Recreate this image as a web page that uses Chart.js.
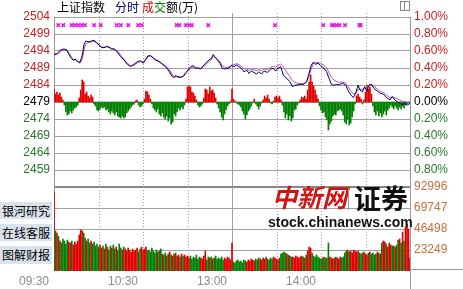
<!DOCTYPE html>
<html>
<head>
<meta charset="utf-8">
<script src="https://cdn.jsdelivr.net/npm/chart.js@4.4.0/dist/chart.umd.min.js"></script>
<style>
html, body { margin: 0; padding: 0; background: #fff; }
#wrap { position: relative; width: 463px; height: 289px; overflow: hidden; font-family: "Noto Sans CJK SC", sans-serif; }
canvas { position: absolute; left: 0; top: 0; }
.t { position: absolute; top: 0; font-size: 12px; line-height: 13px; white-space: nowrap; }
.btn { position: absolute; left: 0; width: 52px; height: 17px; background: #d9e3ec; font-size: 12px; line-height: 17px; padding-left: 2px; box-sizing: border-box; color: #000; }
.wm { position: absolute; white-space: nowrap; pointer-events: none; line-height: 1; }
</style>
</head>
<body>
<div id="wrap">
  <canvas id="top" width="463" height="289"></canvas>
  <canvas id="vol" width="463" height="289"></canvas>

  <span class="t" style="left:57px">上证指数</span>
  <span class="t" style="left:115px;color:#000080">分时</span>
  <span class="t" style="left:142px;color:#d00000">成</span>
  <span class="t" style="left:154px;color:#008000">交</span>
  <span class="t" style="left:166px">额(万)</span>
  <div style="position:absolute;left:400px;top:1px;width:8px;height:8px;border:1px solid #888"></div>
  <div style="position:absolute;left:404px;top:1px;width:1px;height:9px;background:#888"></div>

  <div class="btn" style="top:202px">银河研究</div>
  <div class="btn" style="top:224px">在线客服</div>
  <div class="btn" style="top:246px;height:18px">图解财报</div>

  <div class="wm" style="left:272px;top:184px;font-size:25px;font-weight:bold;font-style:italic;color:#d01414">中新网</div>
  <div class="wm" style="left:348px;top:188px;width:1px;height:22px;background:#999"></div>
  <div class="wm" style="left:354px;top:184px;font-size:27px;font-weight:bold;color:#111">证券</div>
  <div class="wm" style="left:268px;top:215px;font-size:14px;font-weight:bold;color:#111;font-family:'Liberation Sans',Arial,sans-serif">stock.chinanews.com</div>
</div>

<script>
// ---- data ----
const priceTicks = [2454, 2459, 2464, 2469, 2474, 2479, 2484, 2489, 2494, 2499, 2504];
const pctLabels = ['', '0.80%', '0.60%', '0.40%', '0.20%', '0.00%', '0.20%', '0.40%', '0.60%', '0.80%', '1.00%'];
const prevClose = 2479;
const volTicks = [0, 23249, 46498, 69747, 92996];
const timeTicks = [0, 60, 120, 180];
const timeLabels = ['09:30', '10:30', '13:00', '14:00'];
const gridTimes = [30, 60, 90, 120, 150, 180, 210];

// minutes since 09:30 (trading minutes)
const lineTimes = [
  0, 2.2, 4.5, 6.7, 8.5, 10.1, 11.7, 13, 14.6, 15.7,
  17.5, 19.1, 20.2, 21.3, 23.6, 25.2, 27, 28.8, 30.3, 31.9,
  33.7, 35.5, 37.1, 38.7, 40.4, 42.2, 43.8, 44.9, 47.2, 49.4,
  51.7, 53.9, 56.2, 58.4, 60.2, 61.8, 63.4, 65.2, 67, 68.5,
  70.8, 73, 75.3, 77.5, 79.8, 81.3,
  82, 83.1, 85.4, 87.2, 88.8, 90.3, 92.1, 93.9, 95.5, 97.1,
  98.9, 100.7, 102.2, 104.5, 106.1, 107.4, 108.3, 110.1, 111.9, 113.5,
  115.7, 118, 119.5, 121.3, 123.1, 124.7, 126.3, 128.1, 129.9, 131.5,
  133, 134.8, 136.6, 138.2, 139.8, 141.6, 143.8, 146.1, 147.9, 149.4,
  151, 152.8, 154.6, 156.8, 159, 160.7,
  162.2, 164, 166.3, 168.5, 170.3, 171.9, 173.5, 174.8, 176.4, 178,
  179.8, 182, 183.8, 185.4, 187, 188.8, 190.6, 192.1, 194.4, 196.6,
  198.2, 200, 201.8, 203.4, 205, 206.3, 207.9, 209.4, 210.8, 212.4,
  213.9, 215.7, 218, 219.8, 222, 224.3, 226.5, 228.1, 229.7, 231.5,
  233.3, 234.8, 236.4, 238.2, 240
];
const indexPrice = [
  2492.8, 2493.3, 2494.3, 2494.6, 2494.3, 2493.0, 2491.8, 2491.3, 2491.6, 2490.9,
  2490.7, 2492.8, 2495.8, 2496.9, 2496.7, 2496.9, 2497.2, 2496.3, 2495.8, 2495.0,
  2495.0, 2495.3, 2495.1, 2494.6, 2494.6, 2494.0, 2493.0, 2492.3, 2491.4, 2490.1,
  2489.4, 2490.1, 2490.9, 2491.1, 2490.4, 2491.6, 2492.6, 2492.6, 2491.8, 2491.3,
  2490.9, 2490.1, 2489.4, 2488.1, 2486.4, 2486.3,
  2486.8, 2486.4, 2486.2, 2486.6, 2487.7, 2488.4, 2489.4, 2489.7, 2488.9, 2489.0,
  2488.7, 2489.7, 2490.4, 2491.4, 2491.8, 2493.0, 2492.3, 2491.4, 2490.4, 2488.9,
  2488.7, 2489.0, 2489.7, 2489.4, 2489.9, 2489.4, 2488.9, 2487.9, 2488.4, 2487.4,
  2488.1, 2487.7, 2487.2, 2487.9, 2487.2, 2488.1, 2487.7, 2488.7, 2488.9, 2488.1,
  2488.9, 2489.4, 2486.9, 2486.0, 2485.0, 2483.5,
  2483.9, 2484.0, 2484.2, 2484.2, 2485.0, 2487.4, 2489.9, 2490.7, 2490.1, 2490.4,
  2489.7, 2488.9, 2487.9, 2486.0, 2484.2, 2483.9, 2484.2, 2484.0, 2484.5, 2484.0,
  2482.5, 2481.1, 2480.3, 2481.6, 2484.0, 2482.5, 2482.0, 2483.5, 2482.2, 2484.0,
  2484.2, 2483.0, 2482.2, 2481.6, 2481.3, 2480.3, 2479.6, 2480.6, 2479.6, 2479.1,
  2478.6, 2478.1, 2478.6, 2478.1, 2478.6
];
const leadPrice = [
  2493.5, 2493.0, 2493.8, 2494.4, 2494.4, 2493.4, 2492.3, 2491.5, 2491.4, 2490.9,
  2490.4, 2491.6, 2494.3, 2496.0, 2496.6, 2496.7, 2496.9, 2496.5, 2496.0, 2495.3,
  2495.1, 2495.3, 2495.2, 2494.8, 2494.6, 2494.2, 2493.5, 2492.8, 2491.6, 2490.4,
  2489.7, 2489.8, 2490.5, 2490.9, 2490.8, 2491.3, 2492.3, 2492.6, 2492.1, 2491.6,
  2491.0, 2490.3, 2489.6, 2488.6, 2487.0, 2486.3,
  2486.4, 2486.5, 2486.4, 2486.5, 2487.3, 2488.0, 2488.9, 2489.3, 2489.1, 2489.0,
  2488.9, 2489.3, 2490.0, 2490.9, 2491.5, 2492.3, 2492.3, 2491.7, 2490.8, 2489.6,
  2489.1, 2489.3, 2489.8, 2490.0, 2490.3, 2490.0, 2489.5, 2488.8, 2488.8, 2488.3,
  2488.6, 2488.5, 2488.2, 2488.5, 2488.2, 2488.7, 2488.6, 2489.2, 2489.5, 2489.3,
  2489.7, 2490.2, 2489.4, 2487.8, 2486.5, 2485.3,
  2484.8, 2484.5, 2484.4, 2484.4, 2485.0, 2486.6, 2488.8, 2490.3, 2490.6, 2490.6,
  2490.4, 2489.8, 2489.0, 2487.6, 2486.2, 2485.4, 2485.0, 2484.8, 2484.8, 2484.6,
  2483.6, 2482.3, 2481.4, 2481.6, 2482.6, 2482.8, 2482.7, 2483.2, 2483.0, 2483.8,
  2484.2, 2483.6, 2482.8, 2482.2, 2481.8, 2481.0, 2480.3, 2480.5, 2480.2, 2479.9,
  2479.5, 2479.2, 2479.2, 2478.9, 2479.0
];

// buy/sell strength bars, one per minute (axis units, 0 = previous close line)
const strength = [
  13, 8, 10, 7, 9, 5, 2,
  -3, -10, -13, -12, -9, -11, -8, -6, -5, -3,
  4, 12, 22, 20, 8, 10, 6, 4, 7, 5,
  -2, -4, -8, -9, -7, -5, -6, -5, -8, -7,
  -10, -12, -9, -11, -13, -10, -14, -15, -16, -14,
  -16, -15, -11, -9, -7, -5, -3, -2, 1, 2,
  -3, -5, -4, -2, 3, 11, 10, 7, 3, -2,
  -6, -8, -10, -7, -12, -14, -11, -15, -17, -14,
  -19, -16, -22, -20, -12,
  -14, -10, -6, -8, -5, -7, -3,
  3, 15, 16, 15, 10, 9, 6, 2,
  -3, -5, -4, -2,
  4, 13, 12, 8, 15, 11, 12, 9, 4,
  -2, -6, -10, -15, -18, -12, -8, -4, -2,
  1, 13, 3, 1,
  -1, -2, -3, -5, -9, -12, -17, -13, -9, -7, -4, -1,
  3,
  -2, -4, -7, -4, -1,
  2, 6, 4, 7, 3,
  -1, -2,
  1, 5, 6, 4, 6, 2,
  -3, -10, -16, -12, -18, -14, -19, -16, -8,
  -7, -3, -1,
  2, 5, 4, 6, 3, 12, 20, 27, 20, 16, 12, 7, 3,
  -4, -8, -11, -10, -15, -18, -28, -22, -19, -14, -12, -13, -9, -8, -7, -9, -13, -20, -22, -17, -23, -21, -15, -9, -2,
  6, 8, 5, 3,
  -2,
  2, 10, 17, 13, 15, 8,
  -4, -10, -13, -9, -14, -11, -15, -12, -9, -13, -8, -6, -3, -5, -7, -4, -6, -8, -5, -7, -4, -6, -3, -2, -1, -1
];

// turnover per minute (万)
const volume = [
  87500,
  44300, 42100, 38700,
  33200, 31000, 35400, 33200, 29900, 34300, 32100,
  31000, 33200, 28800, 32100, 29900, 33200,
  39900, 45400, 44300, 42100, 36500, 33200,
  35400, 31000, 33200, 29900, 32100, 27700, 29900, 26600,
  28800, 25500, 27700, 24400, 29900, 26600, 23200, 27700, 25500, 28800,
  24400, 26600, 22100, 29900, 25500, 23200, 26600, 24400, 22100, 25500,
  23200, 21000, 24400, 22100, 23200, 25500, 21000, 24400, 26600, 23200,
  24400, 26600, 22100, 23200, 21000, 25500, 22100, 19900, 23200, 21000, 22100, 24400,
  18800, 17700, 19900, 16600, 18800, 21000, 17700, 16600, 18800, 19900,
  16600, 17700, 15500, 18800, 16600, 17700, 15500, 16600,
  14400, 16600, 13300, 15500, 14400, 17700, 13300, 15500, 14400, 13300,
  16600, 22100, 12200, 15500, 14400, 15500, 13300, 14400, 16600, 13300,
  14400, 13300, 15500, 12200, 14400, 13300, 15500, 14400, 12200,
  31000,
  10000, 8900, 11100, 12200, 10000, 11100, 8900, 12200, 11100, 10000, 12200, 11100, 13300, 12200, 11100,
  13300, 12200, 14400, 13300, 12200, 14400, 13300, 15500, 13300, 12200, 14400, 13300, 15500, 14400, 13300, 12200, 14400,
  18800, 19900, 21000, 19900, 18800, 17700, 16600, 15500,
  15500, 14400, 16600, 15500, 14400, 15500, 16600, 15500, 14400, 17700,
  22100, 26600, 25500,
  19900, 16600, 15500, 17700,
  15500, 14400, 13300, 14400, 15500, 14400, 14400,
  31000,
  15500, 14400, 13300, 14400, 15500, 14400, 13300, 15500, 14400, 15500,
  19900, 22100, 23200, 21000, 22100, 19900, 23200, 22100, 21000, 22100, 19900,
  18800, 19900, 21000, 18800, 17700, 19900, 21000, 18800, 19900, 17700, 18800, 21000, 19900, 18800,
  31000, 33200, 32100, 29900,
  26600, 31000, 28800, 27700,
  27700, 26600, 28800,
  34300, 35400,
  31000,
  43200,
  33200,
  48700,
  52000,
  46500,
  14400
];

// minutes where the × signals were shown
const signalTimes = [2.9, 6.3, 11.9, 14.2, 16.4, 18.7, 20.9, 27, 31.5, 42.3, 45, 50.1, 56.8, 59.1,
  82.7, 84.5, 89, 91.2, 92.9, 104, 149, 181.6, 187.3, 188.8, 190.6, 192.4, 196.2, 205.9, 206.8];
const signalLevel = 2501.6;

// ---- colours ----
const RED = '#e00000';
const GREEN = '#008000';
const LBL_RED = '#c81e1e';
const LBL_GREEN = '#287828';
const GRID = '#a0a0a0';

Chart.defaults.font.family = "'Liberation Sans', Arial, sans-serif";
Chart.defaults.font.size = 12;

// dotted half-hour lines, solid at 13:00
const vGrid = {
  id: 'vGrid',
  beforeDatasetsDraw(chart, args, opts) {
    const { ctx, chartArea: a } = chart;
    const x = chart.scales.x;
    ctx.save();
    ctx.strokeStyle = GRID;
    ctx.lineWidth = 1;
    gridTimes.forEach(t => {
      const px = Math.round(x.getPixelForValue(t)) + 0.5;
      ctx.setLineDash(t === 120 ? [] : [1, 2]);
      ctx.beginPath();
      ctx.moveTo(px, a.top - (opts.ext || 0));
      ctx.lineTo(px, a.bottom);
      ctx.stroke();
    });
    ctx.restore();
  },
  afterDraw(chart, args, opts) {
    if (!opts.tail) return;
    const { ctx, chartArea: a } = chart;
    ctx.save();
    ctx.strokeStyle = '#999';
    ctx.lineWidth = 1;
    ctx.beginPath();
    ctx.moveTo(a.right + 0.5, a.bottom);
    ctx.lineTo(a.right + 0.5, chart.height);
    ctx.moveTo(a.right, a.bottom - 1.5);
    ctx.lineTo(chart.width, a.bottom - 1.5);
    ctx.stroke();
    ctx.restore();
  }
};

const priceColor = v => v > prevClose ? LBL_RED : (v < prevClose ? LBL_GREEN : '#000');

new Chart(document.getElementById('top'), {
  type: 'bar',
  data: {
    datasets: [
      {
        type: 'bar',
        data: strength.map((v, i) => ({ x: i, y: v })),
        yAxisID: 'yPow',
        backgroundColor: strength.map(v => v >= 0 ? RED : GREEN),
        barThickness: 1,
        order: 3
      },
      {
        type: 'line',
        data: lineTimes.map((t, i) => ({ x: t, y: leadPrice[i] })),
        yAxisID: 'y',
        borderColor: '#b450d2',
        borderWidth: 1,
        pointRadius: 0,
        order: 2
      },
      {
        type: 'line',
        data: lineTimes.map((t, i) => ({ x: t, y: indexPrice[i] })),
        yAxisID: 'y',
        borderColor: '#00004a',
        borderWidth: 1,
        pointRadius: 0,
        order: 1
      },
      {
        type: 'scatter',
        data: signalTimes.map(t => ({ x: t, y: signalLevel })),
        yAxisID: 'y',
        pointStyle: 'crossRot',
        pointRadius: 2.5,
        borderColor: '#e020e0',
        borderWidth: 1.5,
        order: 0
      }
    ]
  },
  options: {
    responsive: false,
    animation: false,
    devicePixelRatio: 1,
    layout: { padding: { top: 17, bottom: 102, left: 0, right: 0 } },
    plugins: { legend: { display: false }, tooltip: { enabled: false }, vGrid: { ext: 4 } },
    scales: {
      x: { type: 'linear', min: 0, max: 240, offset: false, display: false },
      y: {
        position: 'left', min: 2454, max: 2504,
        afterBuildTicks: s => { s.ticks = priceTicks.map(v => ({ value: v })); },
        afterFit: s => { s.width = 54; },
        ticks: { padding: 4, autoSkip: false, color: c => priceColor(c.tick.value), callback: v => v === 2454 ? '' : String(v) },
        grid: { color: GRID, drawTicks: false },
        border: { display: true, color: '#999' }
      },
      yR: {
        position: 'right', min: 2454, max: 2504,
        afterBuildTicks: s => { s.ticks = priceTicks.map(v => ({ value: v })); },
        afterFit: s => { s.width = 53; },
        ticks: { padding: 4, autoSkip: false, color: c => priceColor(c.tick.value), callback: (v, i) => pctLabels[i] },
        grid: { display: false, drawTicks: false },
        border: { display: true, color: '#999' }
      },
      yPow: { display: false, min: -85, max: 85 }
    }
  },
  plugins: [vGrid]
});

const volColors = volume.map((v, i) => {
  if (i === 0) return RED;
  if (strength[i] > strength[i - 1]) return RED;
  if (strength[i] < strength[i - 1]) return GREEN;
  return '#a01010';
});

new Chart(document.getElementById('vol'), {
  type: 'bar',
  data: {
    datasets: [{
      data: volume.map((v, i) => ({ x: i, y: v })),
      backgroundColor: volColors,
      barThickness: 1
    }]
  },
  options: {
    responsive: false,
    animation: false,
    devicePixelRatio: 1,
    layout: { padding: { top: 187, bottom: 0, left: 0, right: 0 } },
    plugins: { legend: { display: false }, tooltip: { enabled: false }, vGrid: { ext: 0, tail: true } },
    scales: {
      x: {
        type: 'linear', min: 0, max: 240, offset: false,
        afterBuildTicks: s => { s.ticks = timeTicks.map(v => ({ value: v })); },
        afterFit: s => { s.height = 18; },
        ticks: { padding: 3, labelOffset: -20, maxRotation: 0, autoSkip: false, color: '#8c8c8c', callback: (v, i) => timeLabels[i] },
        grid: { display: false, drawTicks: false },
        border: { display: false }
      },
      y: {
        position: 'left', min: 0, max: 92996,
        afterBuildTicks: s => { s.ticks = volTicks.map(v => ({ value: v })); },
        afterFit: s => { s.width = 54; },
        ticks: { display: false, autoSkip: false },
        grid: {
          drawTicks: false,
          color: c => c.tick && c.tick.value === 92996 ? '#888' : GRID,
          lineWidth: c => !c.tick ? 1 : (c.tick.value === 92996 ? 2 : (c.tick.value === 0 ? 0 : 1))
        },
        border: { display: true, color: '#999' }
      },
      yR: {
        position: 'right', min: 0, max: 92996,
        afterBuildTicks: s => { s.ticks = volTicks.map(v => ({ value: v })); },
        afterFit: s => { s.width = 53; },
        ticks: { padding: 4, autoSkip: false, color: '#c86e3c', callback: v => v === 0 ? '' : String(v) },
        grid: { display: false, drawTicks: false },
        border: { display: true, color: '#999' }
      }
    }
  },
  plugins: [vGrid]
});
</script>
</body>
</html>
